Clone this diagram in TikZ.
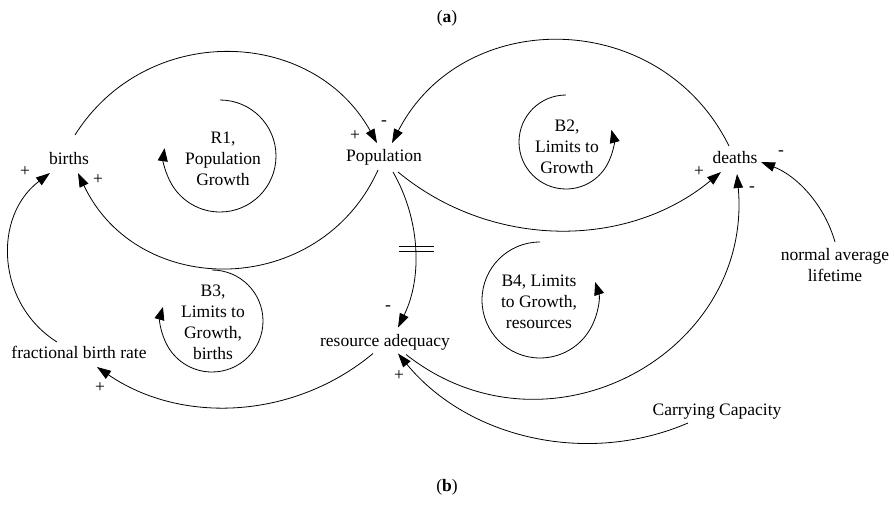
\documentclass[tikz,border=0pt]{standalone}
\usepackage{fontspec}
\setmainfont{Liberation Serif}
\usetikzlibrary{arrows.meta}

\newcommand{\lblfont}{\fontsize{17.5}{21}\selectfont}

\tikzset{
  var/.style={font=\lblfont, inner sep=0pt, anchor=base},
  looplbl/.style={font=\lblfont, align=center, inner sep=0pt},
  sgn/.style={font=\lblfont, inner sep=0pt},
  link/.style={line width=0.8pt, -{Triangle[length=14pt,width=9.5pt]}},
  loopar/.style={line width=0.8pt, -{Triangle[length=13pt,width=10pt]}},
}

\begin{document}
\begin{tikzpicture}[x=1pt,y=1pt]
\useasboundingbox (0,0) rectangle (894,-525);

% panel captions
\node[sgn] (capa) at (447,-18) {(\textbf{a})};
\node[sgn] (capb) at (447,-487) {(\textbf{b})};

% variables
\node[var] (births) at (69,-164.3) {births};
\node[var] (pop)    at (384,-161.7) {Population};
\node[var] (deaths) at (735,-163) {deaths};
\node[font=\lblfont, align=center, inner sep=0pt] (nal) at (835,-265) {normal average\\lifetime};
\node[var] (fbr)    at (79,-358) {fractional birth rate};
\node[var] (ra)     at (385,-346.5) {resource adequacy};
\node[var] (cc)     at (717,-415) {Carrying Capacity};

% loop identifiers
\node[looplbl] (r1lbl) at (223,-159) {R1,\\Population\\Growth};
\node[looplbl] (b2lbl) at (567,-147) {B2,\\Limits to\\Growth};
\node[looplbl] (b3lbl) at (213,-322) {B3,\\Limits to\\Growth,\\births};
\node[looplbl] (b4lbl) at (539,-302) {B4, Limits\\to Growth,\\resources};

% loop arrows
\draw[loopar] (220,-100) arc[start angle=90, end angle=-188, radius=56];
\draw[loopar] (566,-95) arc[start angle=90, end angle=375, radius=47];
\draw[loopar] (212,-270) arc[start angle=90, end angle=-196, radius=51];
\draw[loopar] (540,-242) arc[start angle=90, end angle=378, radius=58];

% causal links
\draw[link] ([shift={(6,29.3)}]births.base) .. controls +(71.1,113.0) and +(-64.9,116.7) .. ([shift={(-7,18.7)}]pop.base);
\draw[link] ([shift={(-6,-8.3)}]pop.base) .. controls +(-58,-128.4) and +(60.4,-127.3) .. ([shift={(9,-8.7)}]births.base);
\draw[link] ([shift={(-6,17)}]deaths.base) .. controls +(-68.6,138.8) and +(71.0,137.6) .. ([shift={(8,18.7)}]pop.base);
\draw[link] ([shift={(14,-10.3)}]pop.base) .. controls +(93.6,-77.4) and +(-93.6,-77.4) .. ([shift={(-14,-9)}]deaths.base);
\draw[link] ([shift={(9,-10.3)}]pop.base) .. controls +(27.5,-47.9) and +(24.4,49.5) .. ([shift={(13,19)}]ra.base) coordinate[pos=0.5] (dly);
\draw[link] ([shift={(-12,-7)}]ra.base) .. controls +(-78.7,-65.7) and +(84.6,-57.9) .. ([shift={(18,-9)}]fbr.base);
\draw[link] ([shift={(-22,16)}]fbr.base) .. controls +(-60.8,38.3) and +(-57.4,-43.3) .. ([shift={(-19,-8.7)}]births.base);
\draw[link] ([shift={(21,-8)}]ra.base) .. controls +(141.7,-111.7) and +(16.2,-179.7) .. ([shift={(2,-11)}]deaths.base);
\draw[link] ([shift={(-29,-8)}]cc.base) .. controls +(-100.9,-43.4) and +(69.7,-84.8) .. ([shift={(13,-7)}]ra.base);
\draw[link] ([shift={(0,23)}]nal.center) .. controls +(-10.5,37.1) and +(36.0,-13.8) .. ([shift={(26,1)}]deaths.base);

% delay mark
\draw[line width=0.8pt] ([shift={(-16,3.2)}]dly) -- ([shift={(19,3.2)}]dly);
\draw[line width=0.8pt] ([shift={(-16,-1.8)}]dly) -- ([shift={(19,-1.8)}]dly);

% link polarities
\node[sgn] (s1)  at (355,-136) {+};
\node[sgn] (s3)  at (384,-123) {-};
\node[sgn] (s2)  at (98,-180) {+};
\node[sgn] (s7)  at (25,-172) {+};
\node[sgn] (s4)  at (699,-172) {+};
\node[sgn] (s8)  at (752,-189) {-};
\node[sgn] (s10) at (781,-153) {-};
\node[sgn] (s5)  at (388,-308) {-};
\node[sgn] (s6)  at (100,-388) {+};
\node[sgn] (s9)  at (399,-376) {+};
\end{tikzpicture}
\end{document}
